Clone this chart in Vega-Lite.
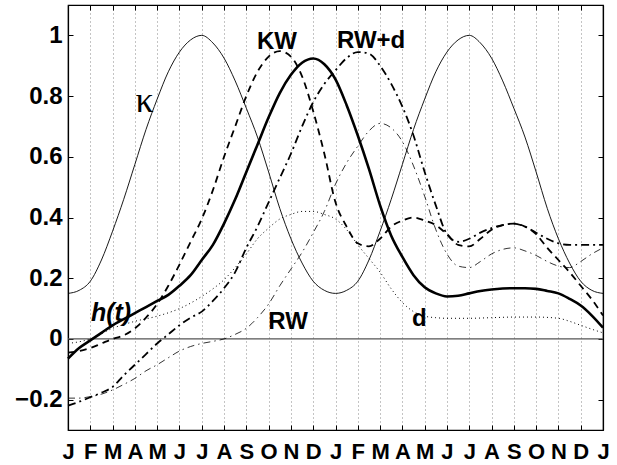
{
  "$schema": "https://vega.github.io/schema/vega-lite/v6.json",
  "width": 535,
  "height": 425,
  "autosize": {"type": "none"},
  "padding": {"left": 68, "top": 5, "right": 14, "bottom": 35},
  "background": "white",
  "config": {
    "view": {"stroke": "black", "strokeWidth": 1.2},
    "axis": {"domainColor": "black", "domainWidth": 1.2, "tickColor": "black", "tickWidth": 1, "labelColor": "black", "labelFont": "Liberation Sans", "labelFontWeight": "bold", "labelFontSize": 24, "title": null}
  },
  "datasets": {
    "curves": [
      {"s":"kappa","t":0,"v":0.15},{"s":"kappa","t":0.5,"v":0.16},{"s":"kappa","t":1,"v":0.19},{"s":"kappa","t":1.5,"v":0.26},{"s":"kappa","t":2,"v":0.355},{"s":"kappa","t":2.5,"v":0.46},{"s":"kappa","t":3,"v":0.575},{"s":"kappa","t":3.5,"v":0.69},{"s":"kappa","t":4,"v":0.79},{"s":"kappa","t":4.5,"v":0.88},{"s":"kappa","t":5,"v":0.945},{"s":"kappa","t":5.5,"v":0.985},{"s":"kappa","t":6,"v":1.0},{"s":"kappa","t":6.5,"v":0.975},{"s":"kappa","t":7,"v":0.925},{"s":"kappa","t":7.5,"v":0.85},{"s":"kappa","t":8,"v":0.76},{"s":"kappa","t":8.5,"v":0.665},{"s":"kappa","t":9,"v":0.55},{"s":"kappa","t":9.5,"v":0.43},{"s":"kappa","t":10,"v":0.33},{"s":"kappa","t":10.5,"v":0.25},{"s":"kappa","t":11,"v":0.19},{"s":"kappa","t":11.5,"v":0.16},{"s":"kappa","t":12,"v":0.15},
      {"s":"kappa","t":12.5,"v":0.16},{"s":"kappa","t":13,"v":0.19},{"s":"kappa","t":13.5,"v":0.26},{"s":"kappa","t":14,"v":0.355},{"s":"kappa","t":14.5,"v":0.46},{"s":"kappa","t":15,"v":0.575},{"s":"kappa","t":15.5,"v":0.69},{"s":"kappa","t":16,"v":0.79},{"s":"kappa","t":16.5,"v":0.88},{"s":"kappa","t":17,"v":0.945},{"s":"kappa","t":17.5,"v":0.985},{"s":"kappa","t":18,"v":1.0},{"s":"kappa","t":18.5,"v":0.975},{"s":"kappa","t":19,"v":0.925},{"s":"kappa","t":19.5,"v":0.85},{"s":"kappa","t":20,"v":0.76},{"s":"kappa","t":20.5,"v":0.665},{"s":"kappa","t":21,"v":0.55},{"s":"kappa","t":21.5,"v":0.43},{"s":"kappa","t":22,"v":0.33},{"s":"kappa","t":22.5,"v":0.25},{"s":"kappa","t":23,"v":0.19},{"s":"kappa","t":23.5,"v":0.16},{"s":"kappa","t":24,"v":0.15},

      {"s":"h","t":0,"v":-0.065},{"s":"h","t":0.5,"v":-0.03},{"s":"h","t":1,"v":-0.005},{"s":"h","t":1.5,"v":0.02},{"s":"h","t":2,"v":0.045},{"s":"h","t":2.5,"v":0.065},{"s":"h","t":3,"v":0.085},{"s":"h","t":3.5,"v":0.105},{"s":"h","t":4,"v":0.125},{"s":"h","t":4.5,"v":0.145},{"s":"h","t":5,"v":0.175},{"s":"h","t":5.5,"v":0.21},{"s":"h","t":6,"v":0.26},{"s":"h","t":6.5,"v":0.31},{"s":"h","t":7,"v":0.38},{"s":"h","t":7.5,"v":0.46},{"s":"h","t":8,"v":0.55},{"s":"h","t":8.5,"v":0.64},{"s":"h","t":9,"v":0.73},{"s":"h","t":9.5,"v":0.81},{"s":"h","t":10,"v":0.87},{"s":"h","t":10.5,"v":0.91},{"s":"h","t":11,"v":0.924},{"s":"h","t":11.5,"v":0.905},{"s":"h","t":12,"v":0.855},{"s":"h","t":12.5,"v":0.77},{"s":"h","t":13,"v":0.67},{"s":"h","t":13.5,"v":0.56},{"s":"h","t":14,"v":0.44},{"s":"h","t":14.5,"v":0.34},{"s":"h","t":15,"v":0.27},{"s":"h","t":15.5,"v":0.21},{"s":"h","t":16,"v":0.17},{"s":"h","t":16.5,"v":0.15},{"s":"h","t":17,"v":0.14},{"s":"h","t":17.5,"v":0.142},{"s":"h","t":18,"v":0.15},{"s":"h","t":18.5,"v":0.158},{"s":"h","t":19,"v":0.163},{"s":"h","t":19.5,"v":0.166},{"s":"h","t":20,"v":0.167},{"s":"h","t":20.5,"v":0.167},{"s":"h","t":21,"v":0.165},{"s":"h","t":21.5,"v":0.158},{"s":"h","t":22,"v":0.15},{"s":"h","t":22.5,"v":0.132},{"s":"h","t":23,"v":0.11},{"s":"h","t":23.5,"v":0.077},{"s":"h","t":24,"v":0.037},

      {"s":"KW","t":0,"v":-0.045},{"s":"KW","t":0.5,"v":-0.04},{"s":"KW","t":1,"v":-0.03},{"s":"KW","t":1.5,"v":-0.015},{"s":"KW","t":2,"v":0.0},{"s":"KW","t":2.5,"v":0.012},{"s":"KW","t":3,"v":0.035},{"s":"KW","t":3.5,"v":0.07},{"s":"KW","t":4,"v":0.115},{"s":"KW","t":4.5,"v":0.175},{"s":"KW","t":5,"v":0.245},{"s":"KW","t":5.5,"v":0.32},{"s":"KW","t":6,"v":0.395},{"s":"KW","t":6.5,"v":0.49},{"s":"KW","t":7,"v":0.6},{"s":"KW","t":7.5,"v":0.7},{"s":"KW","t":8,"v":0.8},{"s":"KW","t":8.5,"v":0.88},{"s":"KW","t":9,"v":0.93},{"s":"KW","t":9.5,"v":0.948},{"s":"KW","t":10,"v":0.93},{"s":"KW","t":10.5,"v":0.865},{"s":"KW","t":11,"v":0.75},{"s":"KW","t":11.5,"v":0.61},{"s":"KW","t":12,"v":0.45},{"s":"KW","t":12.5,"v":0.37},{"s":"KW","t":13,"v":0.315},{"s":"KW","t":13.5,"v":0.305},{"s":"KW","t":14,"v":0.33},{"s":"KW","t":14.5,"v":0.37},{"s":"KW","t":15,"v":0.39},{"s":"KW","t":15.5,"v":0.4},{"s":"KW","t":16,"v":0.39},{"s":"KW","t":16.5,"v":0.375},{"s":"KW","t":17,"v":0.345},{"s":"KW","t":17.5,"v":0.31},{"s":"KW","t":18,"v":0.305},{"s":"KW","t":18.5,"v":0.33},{"s":"KW","t":19,"v":0.36},{"s":"KW","t":19.5,"v":0.375},{"s":"KW","t":20,"v":0.38},{"s":"KW","t":20.5,"v":0.37},{"s":"KW","t":21,"v":0.345},{"s":"KW","t":21.5,"v":0.3},{"s":"KW","t":22,"v":0.26},{"s":"KW","t":22.5,"v":0.22},{"s":"KW","t":23,"v":0.175},{"s":"KW","t":23.5,"v":0.13},{"s":"KW","t":24,"v":0.077},

      {"s":"RWd","t":0,"v":-0.22},{"s":"RWd","t":0.5,"v":-0.207},{"s":"RWd","t":1,"v":-0.192},{"s":"RWd","t":1.5,"v":-0.177},{"s":"RWd","t":2,"v":-0.158},{"s":"RWd","t":2.5,"v":-0.12},{"s":"RWd","t":3,"v":-0.085},{"s":"RWd","t":3.5,"v":-0.05},{"s":"RWd","t":4,"v":-0.015},{"s":"RWd","t":4.5,"v":0.015},{"s":"RWd","t":5,"v":0.045},{"s":"RWd","t":5.5,"v":0.07},{"s":"RWd","t":6,"v":0.09},{"s":"RWd","t":6.5,"v":0.125},{"s":"RWd","t":7,"v":0.167},{"s":"RWd","t":7.5,"v":0.22},{"s":"RWd","t":8,"v":0.3},{"s":"RWd","t":8.5,"v":0.37},{"s":"RWd","t":9,"v":0.45},{"s":"RWd","t":9.5,"v":0.53},{"s":"RWd","t":10,"v":0.61},{"s":"RWd","t":10.5,"v":0.7},{"s":"RWd","t":11,"v":0.78},{"s":"RWd","t":11.5,"v":0.84},{"s":"RWd","t":12,"v":0.885},{"s":"RWd","t":12.5,"v":0.925},{"s":"RWd","t":13,"v":0.945},{"s":"RWd","t":13.5,"v":0.94},{"s":"RWd","t":14,"v":0.9},{"s":"RWd","t":14.5,"v":0.84},{"s":"RWd","t":15,"v":0.765},{"s":"RWd","t":15.5,"v":0.67},{"s":"RWd","t":16,"v":0.55},{"s":"RWd","t":16.5,"v":0.44},{"s":"RWd","t":17,"v":0.345},{"s":"RWd","t":17.5,"v":0.32},{"s":"RWd","t":18,"v":0.33},{"s":"RWd","t":18.5,"v":0.35},{"s":"RWd","t":19,"v":0.365},{"s":"RWd","t":19.5,"v":0.375},{"s":"RWd","t":20,"v":0.38},{"s":"RWd","t":20.5,"v":0.37},{"s":"RWd","t":21,"v":0.35},{"s":"RWd","t":21.5,"v":0.33},{"s":"RWd","t":22,"v":0.315},{"s":"RWd","t":22.5,"v":0.31},{"s":"RWd","t":23,"v":0.31},{"s":"RWd","t":23.5,"v":0.31},{"s":"RWd","t":24,"v":0.31},

      {"s":"RW","t":0,"v":-0.195},{"s":"RW","t":0.5,"v":-0.195},{"s":"RW","t":1,"v":-0.19},{"s":"RW","t":1.5,"v":-0.182},{"s":"RW","t":2,"v":-0.168},{"s":"RW","t":2.5,"v":-0.15},{"s":"RW","t":3,"v":-0.13},{"s":"RW","t":3.5,"v":-0.105},{"s":"RW","t":4,"v":-0.085},{"s":"RW","t":4.5,"v":-0.062},{"s":"RW","t":5,"v":-0.04},{"s":"RW","t":5.5,"v":-0.025},{"s":"RW","t":6,"v":-0.015},{"s":"RW","t":6.5,"v":-0.008},{"s":"RW","t":7,"v":0.0},{"s":"RW","t":7.5,"v":0.015},{"s":"RW","t":8,"v":0.035},{"s":"RW","t":8.5,"v":0.07},{"s":"RW","t":9,"v":0.115},{"s":"RW","t":9.5,"v":0.175},{"s":"RW","t":10,"v":0.23},{"s":"RW","t":10.5,"v":0.285},{"s":"RW","t":11,"v":0.35},{"s":"RW","t":11.5,"v":0.42},{"s":"RW","t":12,"v":0.51},{"s":"RW","t":12.5,"v":0.58},{"s":"RW","t":13,"v":0.635},{"s":"RW","t":13.5,"v":0.685},{"s":"RW","t":14,"v":0.71},{"s":"RW","t":14.5,"v":0.695},{"s":"RW","t":15,"v":0.65},{"s":"RW","t":15.5,"v":0.57},{"s":"RW","t":16,"v":0.47},{"s":"RW","t":16.5,"v":0.36},{"s":"RW","t":17,"v":0.28},{"s":"RW","t":17.5,"v":0.24},{"s":"RW","t":18,"v":0.235},{"s":"RW","t":18.5,"v":0.255},{"s":"RW","t":19,"v":0.28},{"s":"RW","t":19.5,"v":0.295},{"s":"RW","t":20,"v":0.3},{"s":"RW","t":20.5,"v":0.29},{"s":"RW","t":21,"v":0.275},{"s":"RW","t":21.5,"v":0.255},{"s":"RW","t":22,"v":0.24},{"s":"RW","t":22.5,"v":0.235},{"s":"RW","t":23,"v":0.255},{"s":"RW","t":23.5,"v":0.28},{"s":"RW","t":24,"v":0.3},

      {"s":"d","t":0,"v":-0.015},{"s":"d","t":1,"v":0.0},{"s":"d","t":2,"v":0.035},{"s":"d","t":3,"v":0.058},{"s":"d","t":4,"v":0.075},{"s":"d","t":5,"v":0.1},{"s":"d","t":5.5,"v":0.118},{"s":"d","t":6,"v":0.14},{"s":"d","t":6.5,"v":0.165},{"s":"d","t":7,"v":0.195},{"s":"d","t":7.5,"v":0.235},{"s":"d","t":8,"v":0.28},{"s":"d","t":8.5,"v":0.33},{"s":"d","t":9,"v":0.365},{"s":"d","t":9.5,"v":0.395},{"s":"d","t":10,"v":0.41},{"s":"d","t":10.5,"v":0.42},{"s":"d","t":11,"v":0.42},{"s":"d","t":11.5,"v":0.41},{"s":"d","t":12,"v":0.395},{"s":"d","t":12.5,"v":0.36},{"s":"d","t":13,"v":0.31},{"s":"d","t":13.5,"v":0.265},{"s":"d","t":14,"v":0.22},{"s":"d","t":14.5,"v":0.165},{"s":"d","t":15,"v":0.12},{"s":"d","t":15.5,"v":0.09},{"s":"d","t":16,"v":0.075},{"s":"d","t":16.5,"v":0.07},{"s":"d","t":17,"v":0.068},{"s":"d","t":18,"v":0.068},{"s":"d","t":19,"v":0.07},{"s":"d","t":20,"v":0.072},{"s":"d","t":21,"v":0.072},{"s":"d","t":22,"v":0.068},{"s":"d","t":22.5,"v":0.058},{"s":"d","t":23,"v":0.045},{"s":"d","t":23.5,"v":0.032},{"s":"d","t":24,"v":0.02}
    ],
    "labels": [
      {"k":"serif","t":3.43,"v":0.785,"label":"κ"},
      {"k":"italic","t":1.93,"v":0.058,"label":"h(t)"},
      {"k":"bold","t":9.37,"v":0.956,"label":"KW"},
      {"k":"bold","t":13.6,"v":0.957,"label":"RW+d"},
      {"k":"bold","t":9.87,"v":0.033,"label":"RW"},
      {"k":"bold","t":15.76,"v":0.044,"label":"d"}
    ]
  },
  "data": {"name": "curves"},
  "layer": [
    {
      "data": {"values": [{"z": 0}]},
      "mark": {"type": "rule", "color": "#555555", "strokeWidth": 1.3},
      "encoding": {"y": {"field": "z", "type": "quantitative", "axis": null}}
    },
    {
      "transform": [{"filter": "datum.s === 'kappa'"}],
      "mark": {"type": "line", "color": "black", "strokeWidth": 0.9, "interpolate": "monotone"},
      "encoding": {
        "x": {"field": "t", "type": "quantitative", "scale": {"domain": [0, 24], "nice": false, "zero": false},
              "axis": {"orient": "bottom", "values": [0,1,2,3,4,5,6,7,8,9,10,11,12,13,14,15,16,17,18,19,20,21,22,23,24],
                       "labelExpr": "['J','F','M','A','M','J','J','A','S','O','N','D'][datum.value % 12]",
                       "grid": true, "gridDash": [1, 3], "gridColor": "#888888", "gridWidth": 1,
                       "tickSize": -5, "labelPadding": 16, "labelFontSize": 22, "labelFlush": false, "labelOverlap": false, "labelBound": false}},
        "y": {"field": "v", "type": "quantitative", "scale": {"domain": [-0.3, 1.1], "nice": false, "zero": false},
              "axis": {"orient": "left", "values": [-0.2, 0, 0.2, 0.4, 0.6, 0.8, 1], "format": "~g", "grid": false,
                       "tickSize": -5, "labelPadding": 11}}
      }
    },
    {
      "transform": [{"filter": "datum.s === 'h'"}],
      "mark": {"type": "line", "color": "black", "strokeWidth": 2.6, "interpolate": "monotone"},
      "encoding": {
        "x": {"field": "t", "type": "quantitative",
              "axis": {"orient": "top", "values": [0,1,2,3,4,5,6,7,8,9,10,11,12,13,14,15,16,17,18,19,20,21,22,23,24], "labels": false, "grid": false, "tickSize": -5}},
        "y": {"field": "v", "type": "quantitative",
              "axis": {"orient": "right", "values": [-0.2, 0, 0.2, 0.4, 0.6, 0.8, 1], "labels": false, "grid": false, "tickSize": -5}}
      }
    },
    {
      "transform": [{"filter": "datum.s === 'KW'"}],
      "mark": {"type": "line", "color": "black", "strokeWidth": 1.8, "strokeDash": [7, 5], "interpolate": "monotone"},
      "encoding": {"x": {"field": "t", "type": "quantitative", "axis": null}, "y": {"field": "v", "type": "quantitative", "axis": null}}
    },
    {
      "transform": [{"filter": "datum.s === 'RWd'"}],
      "mark": {"type": "line", "color": "black", "strokeWidth": 1.8, "strokeDash": [8, 4, 2, 4], "interpolate": "monotone"},
      "encoding": {"x": {"field": "t", "type": "quantitative", "axis": null}, "y": {"field": "v", "type": "quantitative", "axis": null}}
    },
    {
      "transform": [{"filter": "datum.s === 'RW'"}],
      "mark": {"type": "line", "color": "black", "strokeWidth": 0.8, "strokeDash": [7, 4, 1.5, 4], "interpolate": "monotone"},
      "encoding": {"x": {"field": "t", "type": "quantitative", "axis": null}, "y": {"field": "v", "type": "quantitative", "axis": null}}
    },
    {
      "transform": [{"filter": "datum.s === 'd'"}],
      "mark": {"type": "line", "color": "black", "strokeWidth": 1, "strokeDash": [1, 3], "interpolate": "monotone"},
      "encoding": {"x": {"field": "t", "type": "quantitative", "axis": null}, "y": {"field": "v", "type": "quantitative", "axis": null}}
    },
    {
      "data": {"name": "labels"},
      "transform": [{"filter": "datum.k === 'bold'"}],
      "mark": {"type": "text", "font": "Liberation Sans", "fontWeight": "bold", "fontSize": 24, "align": "center", "baseline": "alphabetic", "color": "black"},
      "encoding": {"x": {"field": "t", "type": "quantitative", "axis": null}, "y": {"field": "v", "type": "quantitative", "axis": null}, "text": {"field": "label"}}
    },
    {
      "data": {"name": "labels"},
      "transform": [{"filter": "datum.k === 'italic'"}],
      "mark": {"type": "text", "font": "Liberation Sans", "fontWeight": "bold", "fontStyle": "italic", "fontSize": 25, "align": "center", "baseline": "alphabetic", "color": "black"},
      "encoding": {"x": {"field": "t", "type": "quantitative", "axis": null}, "y": {"field": "v", "type": "quantitative", "axis": null}, "text": {"field": "label"}}
    },
    {
      "data": {"name": "labels"},
      "transform": [{"filter": "datum.k === 'serif'"}],
      "mark": {"type": "text", "font": "Liberation Serif", "fontSize": 36, "align": "center", "baseline": "middle", "color": "black"},
      "encoding": {"x": {"field": "t", "type": "quantitative", "axis": null}, "y": {"field": "v", "type": "quantitative", "axis": null}, "text": {"field": "label"}}
    }
  ]
}
